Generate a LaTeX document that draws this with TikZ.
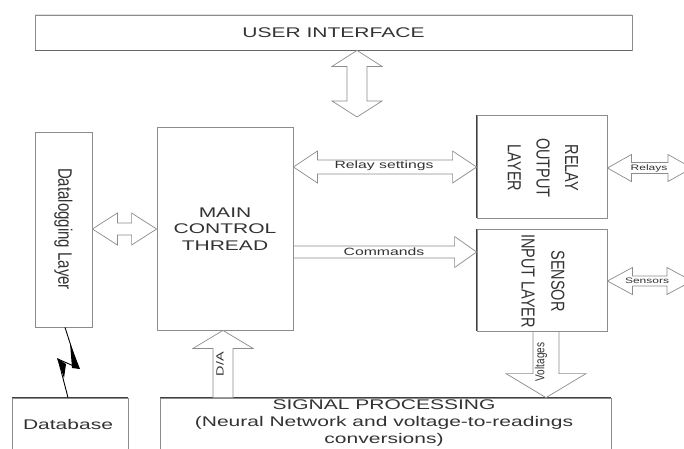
\documentclass[tikz,border=0pt]{standalone}
\usepackage{fontspec}
\setmainfont{Liberation Sans}
\definecolor{linec}{gray}{0.55}
\definecolor{darkline}{gray}{0.25}
\definecolor{txt}{gray}{0.2}
% horizontal double arrow: #1 left tip, #2 right tip, #3 shaft half, #4 head half, #5 head length
\newcommand\hdblarrow[5]{\draw[abody] (#1) -- ([xshift=#5,yshift=-#4]#1) -- ([xshift=#5,yshift=-#3]#1) -- ([xshift=-#5,yshift=-#3]#2) -- ([xshift=-#5,yshift=-#4]#2) -- (#2) -- ([xshift=-#5,yshift=#4]#2) -- ([xshift=-#5,yshift=#3]#2) -- ([xshift=#5,yshift=#3]#1) -- ([xshift=#5,yshift=#4]#1) -- cycle;}
% vertical double arrow: #1 top tip, #2 bottom tip
\newcommand\vdblarrow[5]{\draw[abody] (#1) -- ([xshift=-#4,yshift=-#5]#1) -- ([xshift=-#3,yshift=-#5]#1) -- ([xshift=-#3,yshift=#5]#2) -- ([xshift=-#4,yshift=#5]#2) -- (#2) -- ([xshift=#4,yshift=#5]#2) -- ([xshift=#3,yshift=#5]#2) -- ([xshift=#3,yshift=-#5]#1) -- ([xshift=#4,yshift=-#5]#1) -- cycle;}
% single arrow to the right: #1 tail, #2 tip
\newcommand\hsglarrow[5]{\draw[abody] ([yshift=#3]#1) -- ([xshift=-#5,yshift=#3]#2) -- ([xshift=-#5,yshift=#4]#2) -- (#2) -- ([xshift=-#5,yshift=-#4]#2) -- ([xshift=-#5,yshift=-#3]#2) -- ([yshift=-#3]#1) -- cycle;}
% single arrow up: #1 tail (bottom), #2 tip (top)
\newcommand\vuparrow[5]{\draw[abody] ([xshift=-#3]#1) -- ([xshift=-#3,yshift=-#5]#2) -- ([xshift=-#4,yshift=-#5]#2) -- (#2) -- ([xshift=#4,yshift=-#5]#2) -- ([xshift=#3,yshift=-#5]#2) -- ([xshift=#3]#1) -- cycle;}
% single arrow down: #1 tail (top), #2 tip (bottom)
\newcommand\vdownarrow[5]{\draw[abody] ([xshift=-#3]#1) -- ([xshift=-#3,yshift=#5]#2) -- ([xshift=-#4,yshift=#5]#2) -- (#2) -- ([xshift=#4,yshift=#5]#2) -- ([xshift=#3,yshift=#5]#2) -- ([xshift=#3]#1) -- cycle;}
\begin{document}
\begin{tikzpicture}[x=1pt,y=-1pt,
  blk/.style={draw=linec, line width=0.8pt, rectangle, inner sep=0pt},
  abody/.style={draw=linec, line width=0.7pt, fill=white, line join=miter},
  lbl/.style={text=txt, inner sep=0pt, align=center, xscale=1.5},
  rlbl/.style={text=txt, inner sep=0pt, align=center, rotate=-90, yscale=1.3},
  ulbl/.style={text=txt, inner sep=0pt, align=center, rotate=90, yscale=1.3},
  big/.style={font=\fontsize{14}{16.5}\selectfont},
  small/.style={font=\fontsize{10.5}{12}\selectfont},
  tiny/.style={font=\fontsize{8}{9}\selectfont}]
\useasboundingbox (0,0) rectangle (684,448);
\clip (0,0) rectangle (684,448);
\fill[white] (0,0) rectangle (684,448);

% boxes
\node[blk, minimum width=597pt, minimum height=35pt] (ui) at (333.5,32.5) {};
\node[blk, minimum width=57pt, minimum height=195pt] (dlog) at (63.5,229.5) {};
\node[blk, minimum width=136pt, minimum height=203pt] (main) at (225,228.5) {};
\node[blk, minimum width=130pt, minimum height=103pt] (relay) at (542,166.5) {};
\node[blk, minimum width=130pt, minimum height=102pt] (sensor) at (542,280) {};
\node[blk, minimum width=116pt, minimum height=62pt] (db) at (70,429) {};
\node[blk, minimum width=451pt, minimum height=62pt] (sig) at (385.5,429) {};

% darker edges
\draw[darkline, line width=0.8pt] (relay.north west) -- (relay.south west);
\draw[darkline, line width=0.8pt] (sensor.north west) -- (sensor.south west);
\draw[darkline, line width=0.9pt] (sig.north west) -- (sig.north east);
\draw[darkline, line width=0.9pt] (db.north west) -- (db.north east);
\draw[darkline!80, line width=0.8pt] (ui.south west) -- (ui.south east);
\draw[white, line width=0.9pt] (ui.north west) -- (ui.north east);
\draw[gray!25, line width=0.6pt] (ui.north west) -- (ui.north east);

% box texts
\node[lbl, big] (uit) at (ui) {USER INTERFACE};
\node[lbl, big] (maint) at (225,229) {MAIN\\CONTROL\\THREAD};
\node[rlbl, font=\fontsize{15}{18}\selectfont] (dlogt) at (63.5,229) {Datalogging Layer};
\node[rlbl, font=\fontsize{14.5}{22}\selectfont] (relayt) at (543,168) {RELAY\\OUTPUT\\LAYER};
\node[rlbl, font=\fontsize{14.5}{23}\selectfont] (sensort) at (543,281) {SENSOR\\INPUT LAYER};
\node[lbl, big] (dbt) at (68,424) {Database};
\node[lbl, font=\fontsize{14}{17}\selectfont] (sigt) at (384,423.5) {SIGNAL PROCESSING\\(Neural Network and voltage-to-readings\\conversions)};

% connector end points
\coordinate (uiA) at (ui.south -| 357,0);
\coordinate (uiB) at (357,117);
\coordinate (dlA) at (dlog.east |- 0,229);
\coordinate (dlB) at (main.west |- 0,229);
\coordinate (rsA) at (main.east |- 0,167);
\coordinate (rsB) at (relay.west |- 0,167);
\coordinate (cmA) at (main.east |- 0,252);
\coordinate (cmB) at (sensor.west |- 0,252);
\coordinate (rlA) at (relay.east |- 0,168);
\coordinate (rlB) at (692,168);
\coordinate (snA) at (sensor.east |- 0,281);
\coordinate (snB) at (692,281);
\coordinate (daA) at (sig.north -| 223,0);
\coordinate (daB) at (main.south -| 223,0);
\coordinate (vtA) at (sensor.south -| 546,0);
\coordinate (vtB) at (sig.north -| 546,0);
\coordinate (lzA) at (dlog.south -| 65,0);
\coordinate (lzB) at (db.north -| 68,0);

% arrows
\vdblarrow{uiA}{uiB}{10pt}{25pt}{16pt}
\hdblarrow{dlA}{dlB}{6pt}{16pt}{25pt}
\hdblarrow{rsA}{rsB}{7pt}{16pt}{24pt}
\hsglarrow{cmA}{cmB}{6pt}{15.5pt}{22pt}
\hdblarrow{rlA}{rlB}{5.5pt}{13.5pt}{24pt}
\hdblarrow{snA}{snB}{5pt}{13.5pt}{25pt}
\vuparrow{daA}{daB}{10pt}{30pt}{18pt}
\vdownarrow{vtA}{vtB}{13pt}{40pt}{24pt}

% arrow labels
\node[lbl, small] (rst) at (384,166) {Relay settings};
\node[lbl, small] (cmt) at (384,252) {Commands};
\node[lbl, tiny] (rlt) at (649,168) {Relays};
\node[lbl, tiny] (snt) at (647,281) {Sensors};
\node[ulbl, font=\fontsize{8}{9}\selectfont, xscale=1.8] (dat) at (220,364) {D/A};
\node[ulbl, font=\fontsize{10}{11}\selectfont] (vtt) at (541,362) {Voltages};

% lightning link
\draw[black, line width=0.9pt, line join=miter] (lzA) -- (78,368) -- (58,359) -- (lzB);
\fill[black] (70,343) -- (80,369) -- (72,368) -- cycle;
\fill[black] (57,358) -- (66,364) -- (64,378) -- cycle;
\end{tikzpicture}
\end{document}
